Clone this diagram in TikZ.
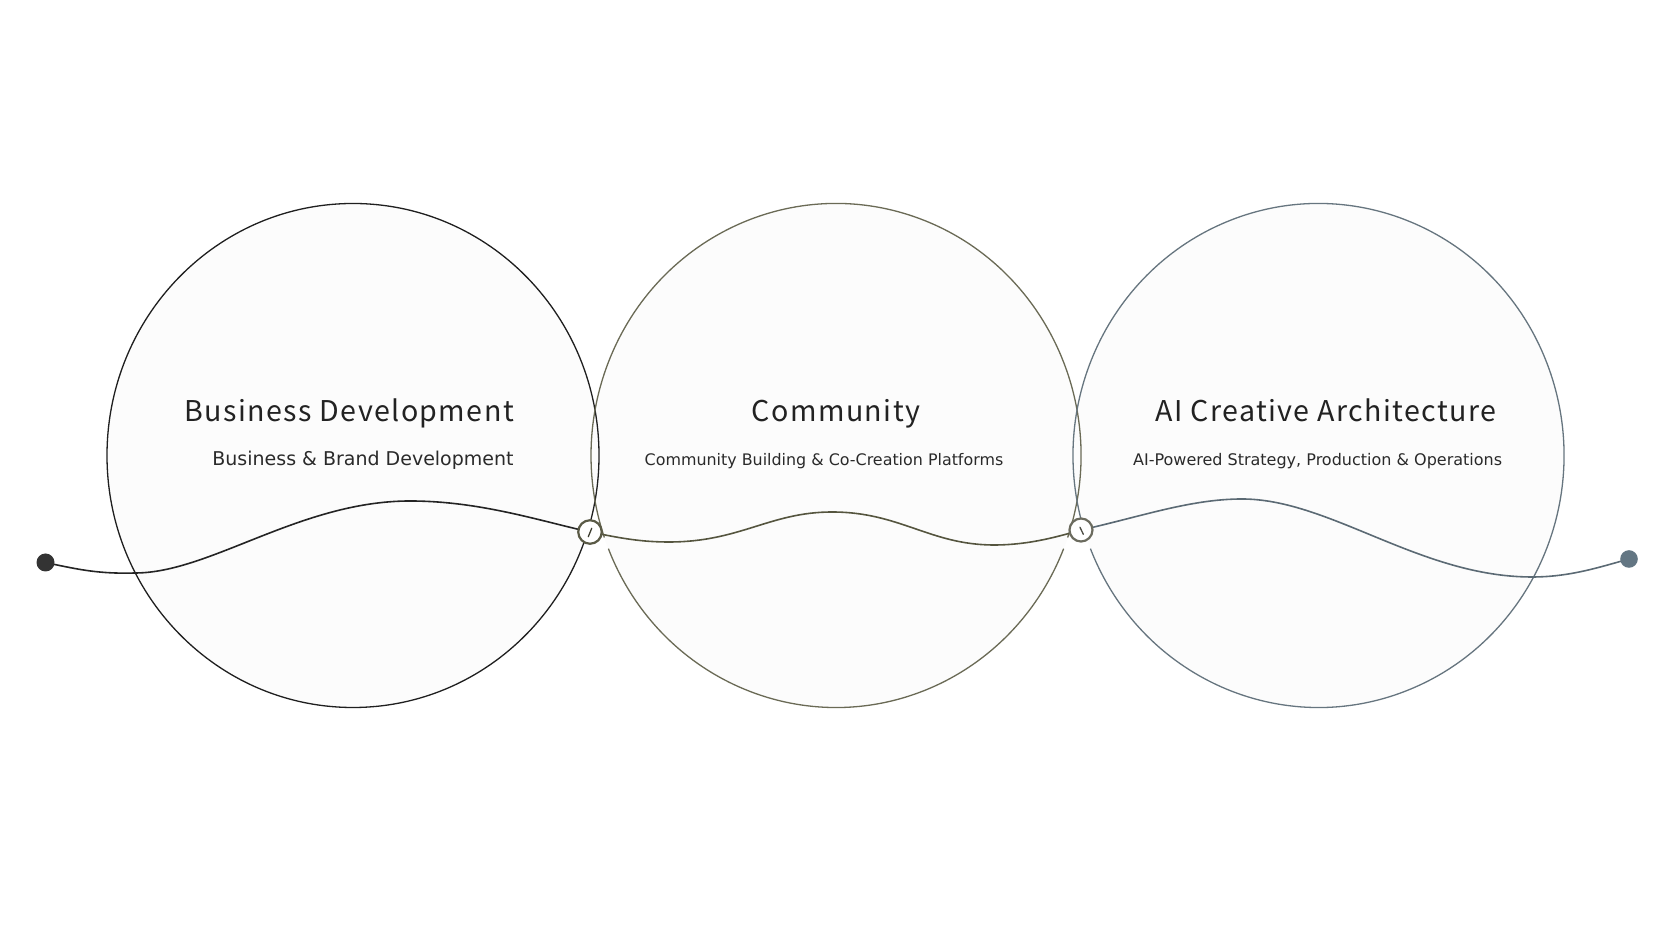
\documentclass[tikz,border=0pt]{standalone}
\usepackage{fontspec}
\setmainfont{DejaVu Sans}
\newfontfamily\titlefont[LetterSpace=5]{Noto Sans CJK JP}
\newfontfamily\subfont{DejaVu Sans}
\definecolor{cone}{HTML}{1F1F1F}
\definecolor{ctwo}{HTML}{6A6A55}
\definecolor{cthree}{HTML}{66757F}
\definecolor{curveA}{HTML}{242424}
\definecolor{curveB}{HTML}{55553F}
\definecolor{curveC}{HTML}{5B6A74}
\definecolor{dotone}{HTML}{333333}
\definecolor{dottwo}{HTML}{637683}
\definecolor{jone}{HTML}{5A5A46}
\definecolor{jtwo}{HTML}{6B6B5E}
\definecolor{circfill}{HTML}{FCFCFC}
\definecolor{titlecol}{HTML}{222222}
\definecolor{subcol}{HTML}{2A2A2A}
\begin{document}
\begin{tikzpicture}[x=1pt,y=1pt,
  ringline/.style={line width=1.3pt},
  wave/.style={line width=1.6pt, line cap=round},
  junction/.style={circle, fill=white, line width=2.2pt, minimum size=23.5pt, inner sep=0pt},
  enddot/.style={circle, inner sep=0pt, minimum size=18pt},
  titletext/.style={anchor=base, inner sep=0pt, text=titlecol, font=\titlefont\fontsize{28.6}{34}\selectfont},
  subtext/.style={anchor=base, inner sep=0pt, text=subcol},
  tick/.style={line width=1.3pt, line cap=round}
]
\useasboundingbox (0,0) rectangle (1672,941);
\fill[white] (0,0) rectangle (1672,941);

% circle centres
\coordinate (c1) at (353,485.5);
\coordinate (c2) at (836,485.5);
\coordinate (c3) at (1318.5,485.5);

% fills
\fill[circfill] (c1) ellipse [x radius=246, y radius=252];
\fill[circfill] (c2) ellipse [x radius=245, y radius=252];
\fill[circfill] (c3) ellipse [x radius=245.5, y radius=252];

% rings
\draw[ringline, cone] (c1) ellipse [x radius=246, y radius=252];
\draw[ringline, ctwo] ([shift={(201.7:245 and 252)}]c2) arc [start angle=201.7, end angle=338.3, x radius=245, y radius=252];
\draw[ringline, ctwo] ([shift={(-19:245 and 252)}]c2) arc [start angle=-19, end angle=199, x radius=245, y radius=252];
\draw[ringline, cthree] ([shift={(201.7:245.5 and 252)}]c3) arc [start angle=201.7, end angle=556, x radius=245.5, y radius=252];

% anchor points of the wave
\coordinate (d1) at (45.5,378.5);
\coordinate (d2) at (1629,382);
\coordinate (j1) at (590,409);
\coordinate (j2) at (1081,411);

% wave
\draw[wave, curveA] (d1) .. controls (80,371) and (100,367) .. (135,368)
  .. controls (210,368) and (300,440) .. (410,440)
  .. controls (480,440) and (540,420) .. (j1);
\draw[wave, curveB] (j1) .. controls (620,403) and (640,399) .. (669,399)
  .. controls (740,399) and (770,429) .. (832,429)
  .. controls (900,429) and (930,396) .. (994,396)
  .. controls (1030,396) and (1060,405) .. (j2);
\draw[wave, curveC] (j2) .. controls (1140,424) and (1190,442) .. (1242,442)
  .. controls (1330,442) and (1420,364) .. (1532,364)
  .. controls (1570,364) and (1600,374) .. (d2);

% end dots and junctions
\node[enddot, fill=dotone] (D1) at (d1) {};
\node[enddot, fill=dottwo, minimum size=17.6pt] (D2) at (d2) {};
\node[junction, draw=jone] (J1) at (j1) {};
\node[junction, draw=jtwo, minimum size=23pt] (J2) at (j2) {};
\draw[tick, jone!70!black] ([shift={(-1.7,-4.7)}]J1.center) -- ([shift={(1.7,3.7)}]J1.center);
\draw[tick, jtwo!70!black] ([shift={(-1,2.7)}]J2.center) -- ([shift={(2.3,-4.3)}]J2.center);

% texts
\node[titletext] (t1) at (349,519.3) {Business Development};
\node[subtext, font=\subfont\fontsize{19}{23}\selectfont] (s1) at (363,475) {Business \& Brand Development};
\node[titletext] (t2) at (836,519.3) {Community};
\node[subtext, font=\subfont\fontsize{15.9}{19}\selectfont] (s2) at (824,475) {Community Building \& Co-Creation Platforms};
\node[titletext] (t3) at (1326,519.3) {AI Creative Architecture};
\node[subtext, font=\subfont\fontsize{16}{19}\selectfont] (s3) at (1317.6,475) {AI-Powered Strategy, Production \& Operations};
\end{tikzpicture}
\end{document}
